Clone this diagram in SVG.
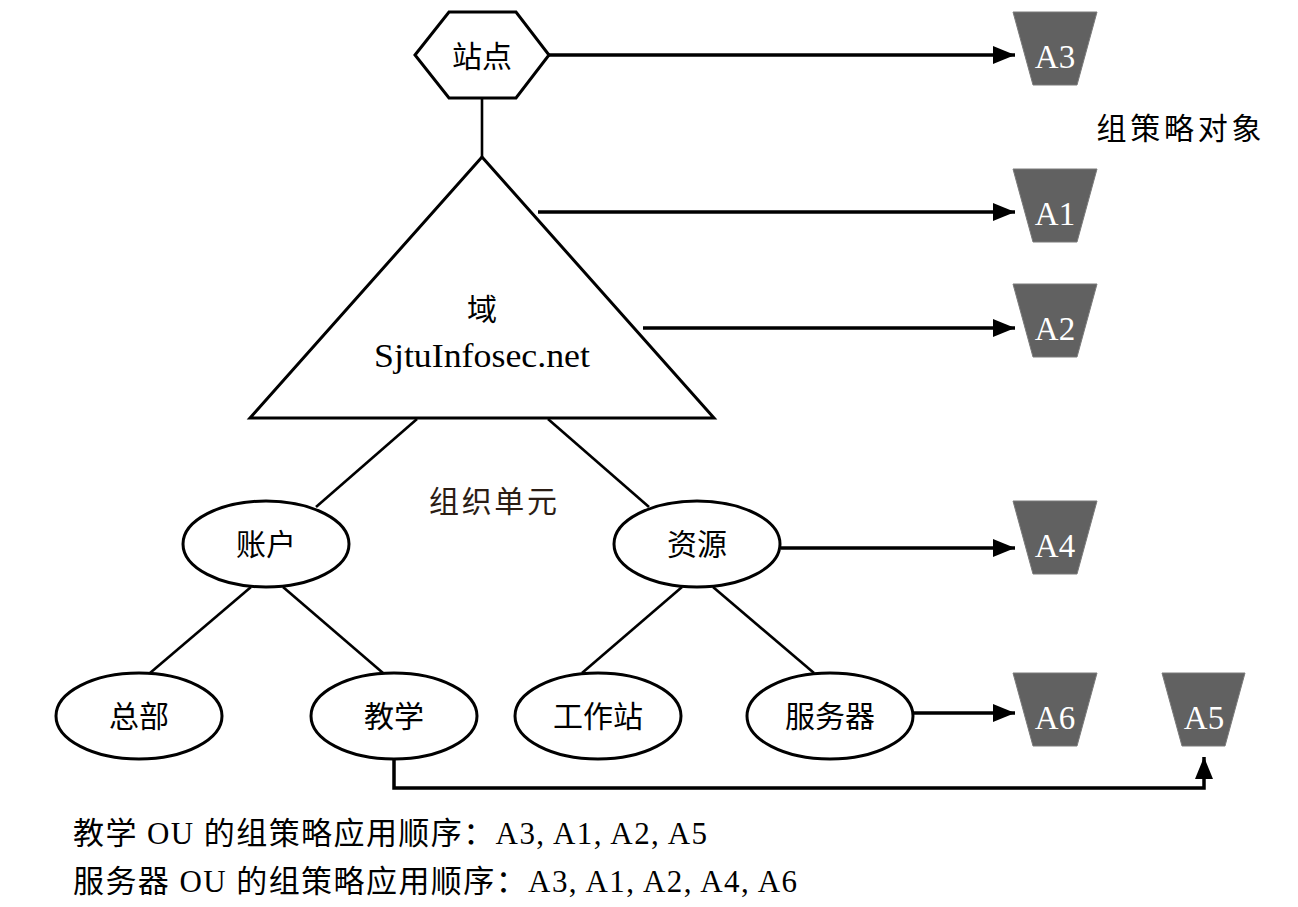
<svg xmlns="http://www.w3.org/2000/svg" width="1298" height="907" viewBox="0 0 1298 907">
<defs>
<style>
.shape{fill:#fff;stroke:#000;stroke-width:3}
.edge{fill:none;stroke:#000;stroke-width:2.6}
.arr{fill:none;stroke:#000;stroke-width:3.5}
.gpo{fill:#616161;stroke:#7a7a7a;stroke-width:1}
.t{font-family:"Liberation Serif","Noto Sans CJK SC",serif;font-size:30px;fill:#000;text-anchor:middle}
.g{font-family:"Liberation Serif","Noto Sans CJK SC",serif;font-size:33px;fill:#fff;text-anchor:middle}
.b{font-family:"Liberation Serif","Noto Sans CJK SC",serif;font-size:31px;fill:#000}
</style>
<marker id="ah" markerUnits="userSpaceOnUse" markerWidth="24" markerHeight="20" refX="22" refY="9" orient="auto">
<path d="M0,0 L22,9 L0,18 z" fill="#000"/>
</marker>
</defs>
<rect width="1298" height="907" fill="#fff"/>

<g id="connectors">
<line class="edge" x1="482" y1="98" x2="482" y2="157"/>
<line class="edge" x1="417" y1="419" x2="316" y2="507"/>
<line class="edge" x1="548" y1="419" x2="649" y2="507"/>
<line class="edge" x1="251" y1="587" x2="150" y2="673"/>
<line class="edge" x1="283" y1="587" x2="383" y2="673"/>
<line class="edge" x1="682" y1="587" x2="582" y2="673"/>
<line class="edge" x1="713" y1="587" x2="814" y2="673"/>
<line class="arr" x1="549" y1="55" x2="1015" y2="55" marker-end="url(#ah)"/>
<line class="arr" x1="538" y1="212" x2="1015" y2="212" marker-end="url(#ah)"/>
<line class="arr" x1="643" y1="328" x2="1015" y2="328" marker-end="url(#ah)"/>
<line class="arr" x1="781" y1="548" x2="1015" y2="548" marker-end="url(#ah)"/>
<line class="arr" x1="914" y1="713" x2="1015" y2="713" marker-end="url(#ah)"/>
<polyline class="arr" points="394,759 394,788 1204,788 1204,757" marker-end="url(#ah)"/>
</g>

<g id="site">
<polygon class="shape" points="415,55 449,12 516,12 549,55 516,98 449,98"/>
<text class="t" x="482" y="67">站点</text>
</g>

<g id="domain">
<polygon class="shape" points="482,157 714,418 250,418"/>
<text class="t" x="482" y="320">域</text>
<text class="t" x="482" y="367" style="font-size:34px" textLength="216" lengthAdjust="spacingAndGlyphs">SjtuInfosec.net</text>
</g>

<g id="ou-label"><text class="t" x="493" y="512" style="fill:#2b1d14" textLength="128" lengthAdjust="spacing">组织单元</text></g>

<g id="accounts"><ellipse class="shape" cx="266" cy="544" rx="83" ry="43"/><text class="t" x="266" y="555">账户</text></g>
<g id="resources"><ellipse class="shape" cx="697" cy="544" rx="83" ry="43"/><text class="t" x="697" y="555">资源</text></g>
<g id="hq"><ellipse class="shape" cx="139" cy="716" rx="83" ry="43"/><text class="t" x="139" y="727">总部</text></g>
<g id="teaching"><ellipse class="shape" cx="394" cy="716" rx="83" ry="43"/><text class="t" x="394" y="727">教学</text></g>
<g id="workstation"><ellipse class="shape" cx="598" cy="716" rx="83" ry="43"/><text class="t" x="598" y="727">工作站</text></g>
<g id="server"><ellipse class="shape" cx="830" cy="716" rx="83" ry="43"/><text class="t" x="830" y="727">服务器</text></g>

<g id="A3"><polygon class="gpo" points="1013,12 1097,12 1077,85 1033,85"/><text class="g" x="1055" y="68">A3</text></g>
<g id="A1"><polygon class="gpo" points="1013,169 1097,169 1077,242 1033,242"/><text class="g" x="1055" y="225">A1</text></g>
<g id="A2"><polygon class="gpo" points="1013,284 1097,284 1077,357 1033,357"/><text class="g" x="1055" y="340">A2</text></g>
<g id="A4"><polygon class="gpo" points="1013,501 1097,501 1077,574 1033,574"/><text class="g" x="1055" y="557">A4</text></g>
<g id="A6"><polygon class="gpo" points="1013,673 1097,673 1077,746 1033,746"/><text class="g" x="1055" y="729">A6</text></g>
<g id="A5"><polygon class="gpo" points="1162,673 1245,673 1225,746 1182,746"/><text class="g" x="1204" y="729">A5</text></g>

<g id="gpo-label"><text class="t" x="1179" y="139" textLength="165" lengthAdjust="spacing">组策略对象</text></g>

<g id="notes">
<text class="b" x="73" y="844" textLength="634" lengthAdjust="spacing">教学 OU 的组策略应用顺序：A3, A1, A2, A5</text>
<text class="b" x="73" y="892" textLength="724" lengthAdjust="spacing">服务器 OU 的组策略应用顺序：A3, A1, A2, A4, A6</text>
</g>
</svg>
